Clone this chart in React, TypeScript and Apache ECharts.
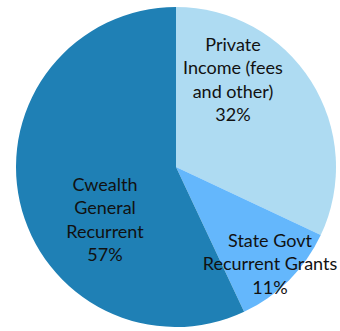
import React, { useEffect, useRef } from "react";
import * as echarts from "echarts";

const categories = ["Private\nIncome (fees\nand other)", "State Govt\nRecurrent Grants", "Cwealth\nGeneral\nRecurrent"];
const values = [32, 11, 57];
const colors = ["#AEDBF2", "#64B7FC", "#1F80B5"];
const labelSpots = [
  [233, 79],
  [270, 263],
  [105, 219],
];

export default function App() {
  const ref = useRef<HTMLDivElement>(null);
  useEffect(() => {
    if (!ref.current) return;
    const chart = echarts.init(ref.current, null, { renderer: "svg" });
    chart.setOption({
      animation: false,
      backgroundColor: "#ffffff",
      series: [
        {
          type: "pie",
          center: [176, 167],
          radius: 160,
          startAngle: 90,
          clockwise: true,
          avoidLabelOverlap: false,
          data: categories.map((name, i) => ({
            name,
            value: values[i],
            itemStyle: { color: colors[i] },
          })),
          itemStyle: { borderWidth: 0 },
          label: {
            show: true,
            position: "inside",
            formatter: (p: any) => `${p.name}\n${p.value}%`,
            color: "#111111",
            fontFamily: "Lato",
            fontSize: 18,
            lineHeight: 23.5,
            align: "center",
          },
          labelLine: { show: false },
          emphasis: { disabled: true },
          labelLayout: (params: any) => {
            const s = labelSpots[params.dataIndex];
            return { x: s[0], y: s[1], align: "center", verticalAlign: "middle" };
          },
        },
      ],
    });
    return () => chart.dispose();
  }, []);
  return (
    <div
      ref={ref}
      style={{ position: "fixed", left: 0, top: 0, width: 340, height: 331 }}
    />
  );
}
